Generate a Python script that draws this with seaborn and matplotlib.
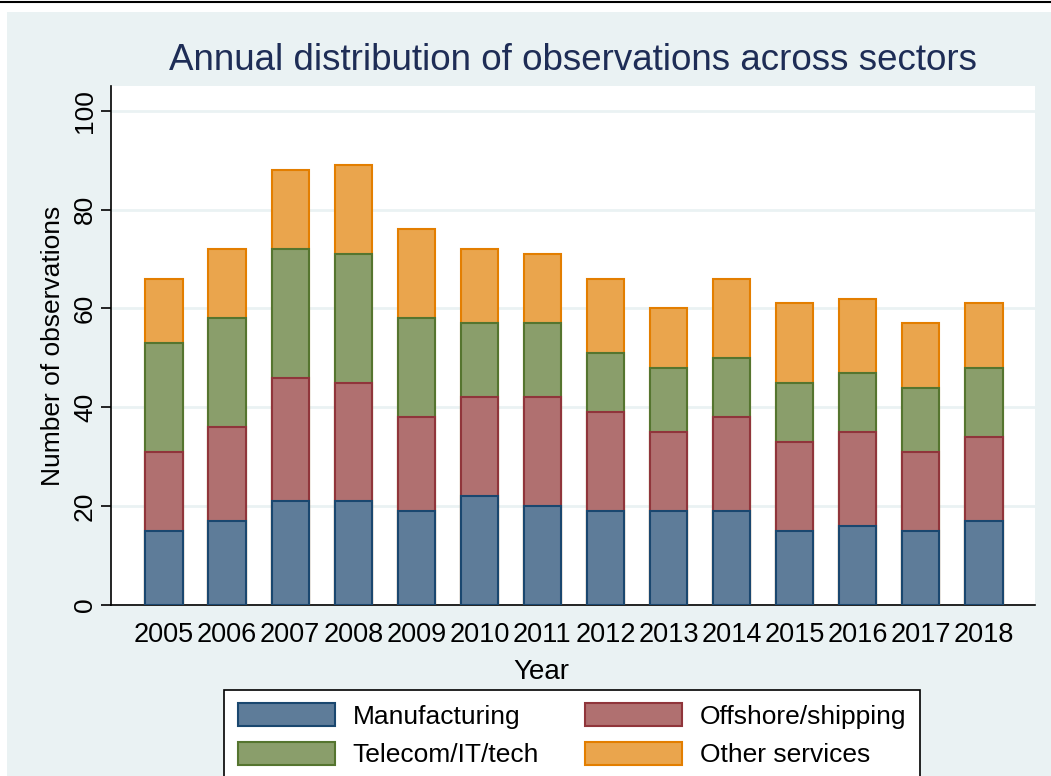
import matplotlib
matplotlib.use("Agg")
import matplotlib.pyplot as plt
from matplotlib.patches import Patch, Rectangle
import pandas as pd
import seaborn as sns

years = ["2005", "2006", "2007", "2008", "2009", "2010", "2011",
         "2012", "2013", "2014", "2015", "2016", "2017", "2018"]
manufacturing = [15, 17, 21, 21, 19, 22, 20, 19, 19, 19, 15, 16, 15, 17]
offshore = [16, 19, 25, 24, 19, 20, 22, 20, 16, 19, 18, 19, 16, 17]
telecom = [22, 22, 26, 26, 20, 15, 15, 12, 13, 12, 12, 12, 13, 14]
other = [13, 14, 16, 18, 18, 15, 14, 15, 12, 16, 16, 15, 13, 13]

sectors = ["Manufacturing", "Offshore/shipping", "Telecom/IT/tech", "Other services"]
fills = ["#5E7C99", "#B07070", "#8A9E6B", "#EAA54D"]
edges = ["#1A476F", "#90353B", "#55752F", "#E37E00"]
bg = "#EAF2F3"

df = pd.DataFrame({"year": years, "Manufacturing": manufacturing,
                   "Offshore/shipping": offshore, "Telecom/IT/tech": telecom,
                   "Other services": other})
# cumulative heights so bars can be layered tallest first
cum = df[sectors].cumsum(axis=1)
cum["year"] = df["year"]

sns.set_style("white")
plt.rcParams["font.family"] = ["Liberation Sans", "DejaVu Sans"]
plt.rcParams["text.color"] = "black"
plt.rcParams["axes.labelcolor"] = "black"
plt.rcParams["xtick.color"] = "black"
plt.rcParams["ytick.color"] = "black"

fig = plt.figure(figsize=(10.51, 7.76), dpi=100, facecolor="white")
fig.patches.append(Rectangle((7 / 1051, 0), 1 - 7 / 1051, 1 - 12 / 776,
                             transform=fig.transFigure, facecolor=bg,
                             edgecolor="none", zorder=-10))
fig.lines.append(plt.Line2D([0, 1], [1 - 1.5 / 776] * 2, transform=fig.transFigure,
                            color="black", linewidth=1.5, zorder=-5))

ax = fig.add_axes([111 / 1051, 1 - 605 / 776, (1035 - 111) / 1051, (605 - 86) / 776])
ax.set_zorder(2)
ax.set_facecolor("white")

for i in range(3, -1, -1):
    sns.barplot(data=cum, x="year", y=sectors[i], order=years, color=fills[i],
                edgecolor=edges[i], linewidth=1.5, width=0.59, saturation=1,
                ax=ax, zorder=3)

ax.set_xlim(-0.84, 13.81)
ax.set_ylim(0, 105)
ax.set_yticks([0, 20, 40, 60, 80, 100])
ax.yaxis.grid(True, color=bg, linewidth=2, zorder=0)
ax.set_axisbelow(True)
for side in ["top", "right"]:
    ax.spines[side].set_visible(False)
ax.spines["left"].set_color("black")
ax.spines["bottom"].set_color("black")
ax.spines["left"].set_linewidth(1.2)
ax.spines["bottom"].set_linewidth(1.2)
ax.tick_params(axis="y", which="both", left=True, length=7, width=1.2, color="black",
               labelsize=19, pad=3)
ax.tick_params(axis="x", bottom=False, labelsize=19.5, pad=9)
for lab in ax.get_yticklabels():
    lab.set_rotation(90)
    lab.set_va("center")

ax.set_xlabel("Year", fontsize=20, labelpad=7)
ax.xaxis.set_label_coords((541 - 111) / 924, -0.105)
ax.set_ylabel("Number of observations", fontsize=19, labelpad=6)

fig.text(573 / 1051, 1 - 61 / 776, "Annual distribution of observations across sectors",
         ha="center", va="center", fontsize=26.5, color="#1E2D56")

handles = [Patch(facecolor=fills[i], edgecolor=edges[i], linewidth=1.5, label=sectors[i])
           for i in [0, 2, 1, 3]]
leg = fig.legend(handles=handles, ncol=2, loc="upper center",
                 bbox_to_anchor=(572 / 1051, 1 - 690 / 776), fontsize=19,
                 frameon=True, fancybox=False, edgecolor="black", facecolor="white",
                 handlelength=3.67, handleheight=0.95, handletextpad=0.68,
                 columnspacing=1.75, labelspacing=0.5, borderpad=0.5, borderaxespad=0)
leg.get_frame().set_linewidth(1.2)
leg.get_frame().set_alpha(1)
leg.set_zorder(5)

fig.savefig("out.png", dpi=100, facecolor=fig.get_facecolor())
